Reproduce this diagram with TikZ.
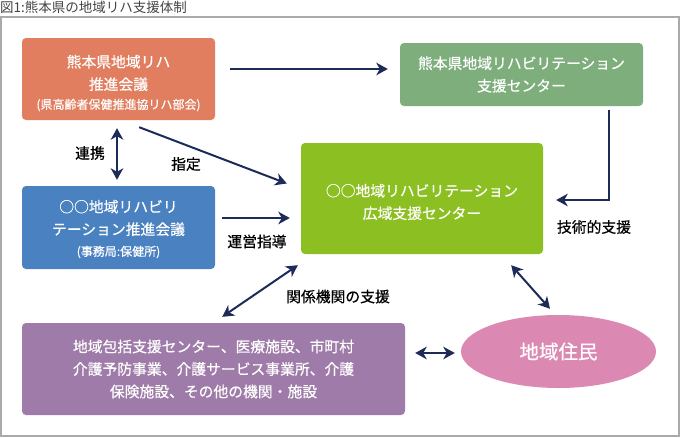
\documentclass[tikz,border=0pt]{standalone}
\usepackage{fontspec}
\setmainfont{Noto Sans CJK JP}[BoldFont=Noto Sans CJK JP, BoldFeatures={FakeBold=0.5}]
\usetikzlibrary{arrows.meta,calc,shapes.geometric}
\definecolor{cOrg}{HTML}{E07E5F}
\definecolor{cBlu}{HTML}{4A81C1}
\definecolor{cGrn}{HTML}{7FAE7D}
\definecolor{cLim}{HTML}{8CBF21}
\definecolor{cPur}{HTML}{9E7BA8}
\definecolor{cPnk}{HTML}{DB89B3}
\definecolor{cNav}{HTML}{1D2B58}
\definecolor{cFrm}{HTML}{AAAAAA}
\definecolor{cTtl}{HTML}{444444}
\tikzset{
  boxst/.style={rectangle, rounded corners=4pt, draw=none, text=white, align=center, inner sep=0pt,
    font=\fontsize{14.8}{22.5}\selectfont\bfseries},
  tip/.tip={Stealth[length=11.5pt,width=12.5pt,inset=3.5pt]},
  conn/.style={draw=cNav, line width=2pt, -tip},
  biconn/.style={draw=cNav, line width=2pt, tip-tip},
  lbl/.style={font=\fontsize{14.8}{18}\selectfont\bfseries, text=black, inner sep=0pt},
  smalltxt/.style={font=\fontsize{12}{14}\selectfont\bfseries}
}
\begin{document}
\begin{tikzpicture}[x=1pt,y=-1pt]
\useasboundingbox (0,0) rectangle (680,437);
\fill[white] (0,0) rectangle (680,437);
\draw[cFrm, line width=1.5pt] (1,17) rectangle (679,436);
\node[anchor=west, inner sep=0pt, text=cTtl, font=\fontsize{13.5}{14}\selectfont] (title) at (0,7.5) {図1:熊本県の地域リハ支援体制};

\node[boxst, fill=cOrg, minimum width=193pt, minimum height=82pt] (org) at (118.5,79) {};
\node[boxst, text=white] (orgt) at (118.5,73) {熊本県地域リハ\\推進会議};
\node[boxst, smalltxt] (orgs) at (118.5,105) {(県高齢者保健推進協リハ部会)};

\node[boxst, fill=cBlu, minimum width=193pt, minimum height=83pt] (blu) at (118.5,227.5) {};
\node[boxst] (blut) at (118.5,218) {○○地域リハビリ\\テーション推進会議};
\node[boxst, smalltxt] (blus) at (118.5,252) {(事務局:保健所)};

\node[boxst, fill=cGrn, minimum width=243pt, minimum height=63pt] (grn) at (521.5,74.5) {熊本県地域リハビリテーション\\支援センター};

\node[boxst, fill=cLim, minimum width=242pt, minimum height=111pt] (lim) at (422,198.5) {};
\node[boxst] (limt) at (422,202) {○○地域リハビリテーション\\広域支援センター};

\node[boxst, fill=cPur, minimum width=383pt, minimum height=92pt] (pur) at (213.5,369) {地域包括支援センター、医療施設、市町村\\介護予防事業、介護サービス事業所、介護\\保険施設、その他の機関・施設};

\node[ellipse, fill=cPnk, minimum width=195pt, minimum height=73pt, inner sep=0pt, text=white, font=\fontsize{19.5}{22}\selectfont\bfseries] (res) at (558.5,351.5) {地域住民};

\draw[conn] ($(org.east)+(15,-10)$) -- ($(grn.west)+(-12,-5.5)$);
\draw[biconn] ($(org.south)+(-1.5,8)$) -- ($(blu.north)+(-1.5,-6)$);
\draw[conn] ($(org.south east)+(-76,7)$) -- ($(lim.west)+(-14,-15)$);
\draw[conn] ($(blu.east)+(7,-9.5)$) -- ($(lim.west)+(-11,19.5)$);
\draw[conn] ($(grn.south east)+(-34,4)$) |- ($(lim.east)+(13,1.5)$);
\draw[biconn] ($(lim.south west)+(-3,11)$) -- ($(pur.north east)+(-183,-6)$);
\draw[biconn] ($(lim.south east)+(-32,11)$) -- ($(res.north)+(-8.5,-6)$);
\draw[biconn] ($(pur.east)+(10,-16)$) -- ($(res.west)+(-6,1.5)$);

\node[lbl] (l1) at (90,153) {連携};
\node[lbl] (l2) at (186,164) {指定};
\node[lbl] (l3) at (257,241.5) {運営指導};
\node[lbl] (l4) at (594,227) {技術的支援};
\node[lbl] (l5) at (338,296.5) {関係機関の支援};
\end{tikzpicture}
\end{document}
